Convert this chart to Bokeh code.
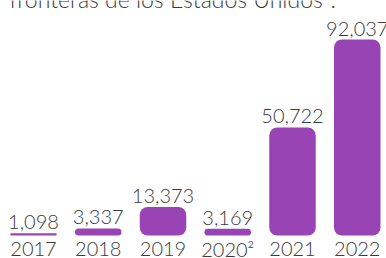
from bokeh.plotting import figure
from bokeh.models import ColumnDataSource, Range1d, GlobalInlineStyleSheet
from bokeh.embed import file_html
from bokeh.resources import INLINE
from bokeh.core.properties import value

# ---- data ----
years = [2017, 2018, 2019, 2020, 2021, 2022]
year_labels = ["2017", "2018", "2019", "2020²", "2021", "2022"]
counts = [1098, 3337, 13373, 3169, 50722, 92037]
count_labels = ["1,098", "3,337", "13,373", "3,169", "50,722", "92,037"]
title_text = ["fronteras de los Estados Unidos²."]

# ---- layout ----
W, H = 386, 258
px_x = 1 / 64.75
x0 = years[0] - 33 * px_x
xr = Range1d(x0, x0 + W * px_x)
px_y = max(counts) / 196.0
base = 235
yr = Range1d(-(H - base) * px_y, base * px_y)

src = ColumnDataSource(dict(years=years, counts=counts, year_labels=year_labels,
                            count_labels=count_labels))

p = figure(width=W, height=H, x_range=xr, y_range=yr, output_backend="svg",
           toolbar_location=None, x_axis_location=None, y_axis_location=None,
           min_border=0, outline_line_color=None)
p.grid.visible = False
p.background_fill_color = "white"
p.border_fill_color = "white"
p.stylesheets = [GlobalInlineStyleSheet(css="html, body { margin: 0 !important; padding: 0 !important; overflow: hidden; }")]

PURPLE = "#9944b5"
TXT = "#3a3a3a"
FONT = value("'Lato Light', Lato")

p.vbar(x="years", top="counts", bottom=0, width=46.5 * px_x, source=src,
       fill_color=PURPLE, line_color=None, border_radius=8)

p.text(x="years", y="counts", text="count_labels", source=src,
       text_align="center", text_baseline="bottom", y_offset=-4,
       text_font=FONT, text_font_size="20px", text_color=TXT)

p.text(x="years", y=0, text="year_labels", source=src,
       text_align="center", text_baseline="alphabetic", y_offset=13,
       text_font=FONT, text_font_size="20px", text_color=TXT)

p.text(x=[xr.start], y=[yr.end], text=title_text,
       text_align="left", text_baseline="alphabetic", x_offset=9, y_offset=-2,
       text_font=FONT, text_font_size="23px", text_color=TXT)

open("out.html", "w").write(file_html(p, INLINE))
